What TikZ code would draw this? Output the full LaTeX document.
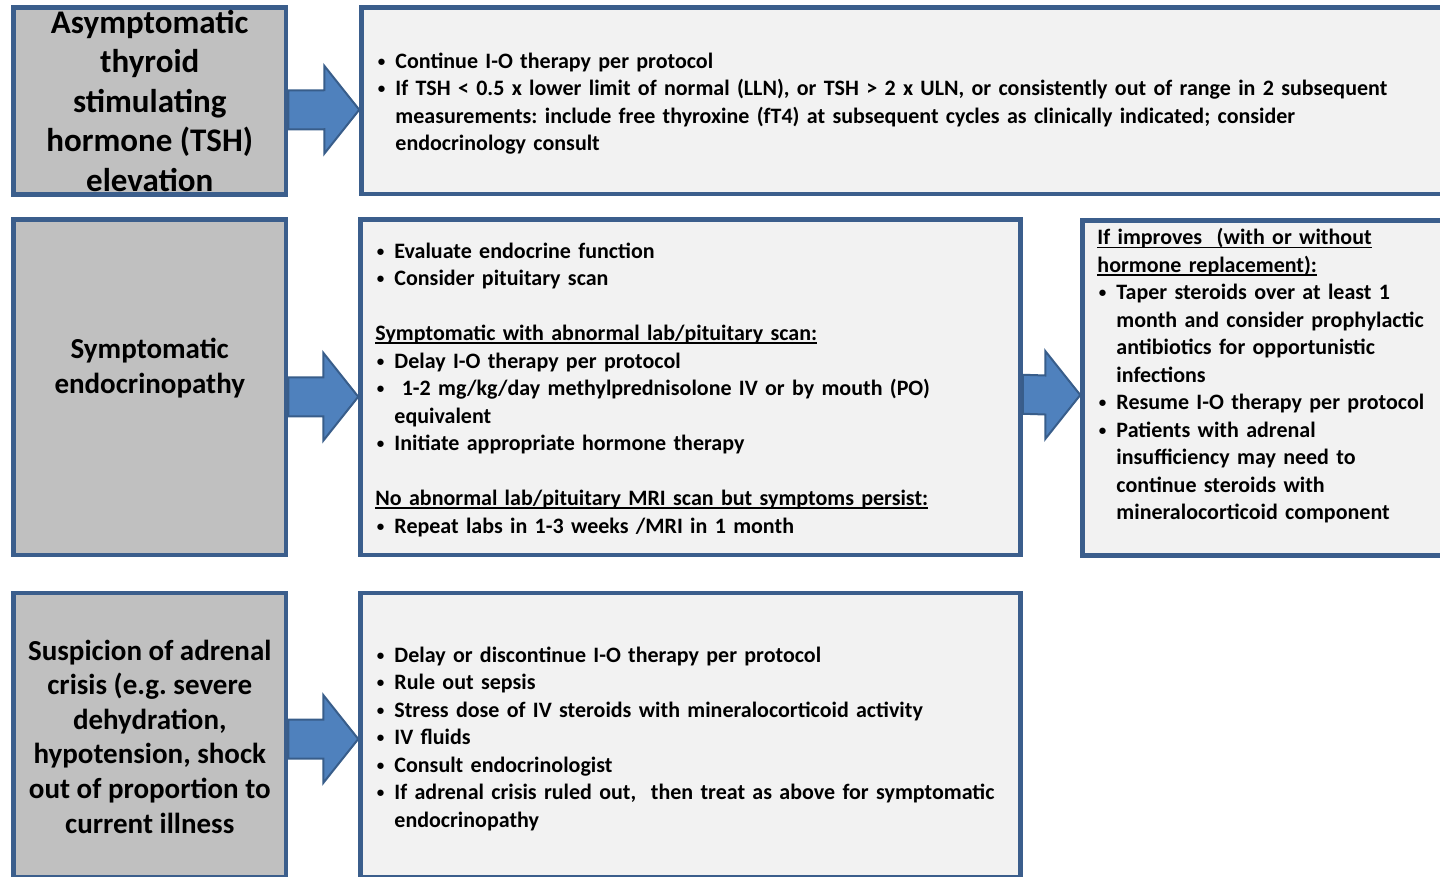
\documentclass[tikz,border=0pt]{standalone}
\usepackage{fontspec}
\setmainfont{Carlito}
\usetikzlibrary{calc}
\frenchspacing

\definecolor{boxline}{RGB}{59,94,140}
\definecolor{casefill}{RGB}{192,192,192}
\definecolor{actfill}{RGB}{242,242,242}
\definecolor{arrowfill}{RGB}{79,129,189}
\definecolor{arrowline}{RGB}{56,93,138}

% bullet item with hanging indent
\newlength\bulind \setlength\bulind{19pt}
\newcommand\itm{\par\hangindent=\bulind\hangafter=1\noindent
  \makebox[\bulind][l]{\hspace{1.5pt}\raisebox{2pt}{\fontsize{15}{15}\selectfont\textbullet}}}
% underlined heading line
\newcommand\headline[1]{\par\noindent\setbox0\hbox{#1}\rlap{\rule[-3.5pt]{\wd0}{1.8pt}}\box0}
\newcommand\gap{\par\vspace{\baselineskip}}

% block arrow from one box to the next, dropped a little below centre
\newcommand\blockarrow[3]{%
  \draw[bigarrow] ($(#1.east)+(0,#3-19.5)$) -- ($(#2.west)+(-35,#3-19.5)$) -- ($(#2.west)+(-35,#3-44)$)
    -- ($(#2.west)+(0,#3)$) -- ($(#2.west)+(-35,#3+44)$) -- ($(#2.west)+(-35,#3+19.5)$)
    -- ($(#1.east)+(0,#3+19.5)$) -- cycle;}

\begin{document}
\begin{tikzpicture}[x=1pt, y=-1pt,
    casebox/.style={draw=boxline, line width=4.5pt, fill=casefill, minimum width=272.5, inner sep=0},
    actbox/.style={draw=boxline, line width=4.5pt, fill=actfill, inner sep=0},
    casetext/.style={align=center, inner sep=0, font=\bfseries\fontsize{29}{35}\selectfont},
    acttext/.style={anchor=west, align=left, inner sep=0, font=\bfseries\fontsize{22}{27.5}\selectfont},
    bigarrow/.style={fill=arrowfill, draw=arrowline, line width=2pt, line join=miter}]

    \useasboundingbox (0,0) rectangle (1440,877);
    \clip (0,0) rectangle (1440,877);

    % TOP ROW: TSH elevation
    \node[casebox, minimum height=187] (tsh) at (149.75,101) {};
    \node[actbox, minimum width=1108.5, minimum height=186.5] (tshact) at (915.75,100.75) {};
    \node[casetext, font=\bfseries\fontsize{33}{39.5}\selectfont] (tshtext) at (tsh)
        {Asymptomatic\\thyroid\\stimulating\\hormone (TSH)\\elevation};
    \node[acttext, text width=1060] (tshlist) at ($(tshact.west)+(17,-3)$) {%
        \itm Continue I-O therapy per protocol
        \itm If TSH < 0.5 x lower limit of normal (LLN), or TSH > 2 x ULN, or consistently out of range in 2 subsequent\newline
        measurements: include free thyroxine (fT4) at subsequent cycles as clinically indicated; consider\newline
        endocrinology consult\par};

    % MIDDLE ROW: symptomatic endocrinopathy
    \node[casebox, minimum height=335.5] (endo) at (149.75,387.25) {};
    \node[actbox, minimum width=660, minimum height=335.5] (endoact) at (690.5,387.25) {};
    \node[actbox, minimum width=387.5, minimum height=335] (endonext) at (1276.25,388) {};
    \node[casetext] (endotext) at ($(endo)+(0,-19)$) {Symptomatic\\endocrinopathy};
    \node[acttext, text width=640] (endolist) at ($(endoact.west)+(17,-3.5)$) {%
        \itm Evaluate endocrine function
        \itm Consider pituitary scan
        \gap\headline{Symptomatic with abnormal lab/pituitary scan:}
        \itm Delay I-O therapy per protocol
        \itm \ 1-2 mg/kg/day methylprednisolone IV or by mouth (PO)\newline equivalent
        \itm Initiate appropriate hormone therapy
        \gap\headline{No abnormal lab/pituitary MRI scan but symptoms persist:}
        \itm Repeat labs in 1-3 weeks /MRI in 1 month\par};
    \node[acttext, anchor=north west, text width=360] (nextlist) at ($(endonext.north west)+(17,-1)$) {%
        \headline{If improves\ \ (with or without}
        \headline{hormone replacement):}
        \itm Taper steroids over at least 1\newline month and consider prophylactic\newline antibiotics for opportunistic\newline infections
        \itm Resume I-O therapy per protocol
        \itm Patients with adrenal\newline insufficiency may need to\newline continue steroids with\newline mineralocorticoid component\par};

    % BOTTOM ROW: adrenal crisis
    \node[casebox, minimum height=284] (adrenal) at (149.75,735) {};
    \node[actbox, minimum width=660, minimum height=284] (adrenalact) at (690.5,735) {};
    \node[casetext, font=\bfseries\fontsize{29}{34.6}\selectfont] (adrenaltext) at ($(adrenal)+(0,1.5)$)
        {Suspicion of adrenal\\crisis (e.g. severe\\dehydration,\\hypotension, shock\\out of proportion to\\current illness};
    \node[acttext, text width=640] (adrenallist) at ($(adrenalact.west)+(17,-2.5)$) {%
        \itm Delay or discontinue I-O therapy per protocol
        \itm Rule out sepsis
        \itm Stress dose of IV steroids with mineralocorticoid activity
        \itm IV fluids
        \itm Consult endocrinologist
        \itm If adrenal crisis ruled out,\ \ then treat as above for symptomatic\newline endocrinopathy\par};

    % Arrows
    \blockarrow{tsh}{tshact}{9}
    \blockarrow{endo}{endoact}{9.5}
    \blockarrow{endoact}{endonext}{7}
    \blockarrow{adrenal}{adrenalact}{4}

\end{tikzpicture}
\end{document}
